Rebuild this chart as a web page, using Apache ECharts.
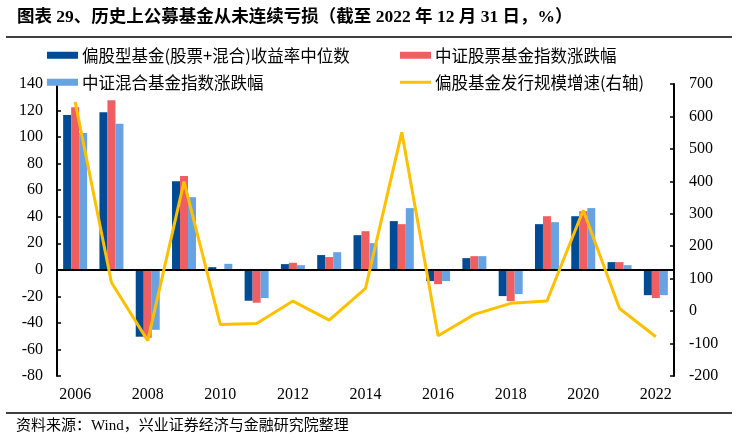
<!DOCTYPE html>
<html>
<head>
<meta charset="utf-8">
<script src="https://cdn.jsdelivr.net/npm/echarts@6/dist/echarts.min.js"></script>
<style>
    html, body { margin: 0; padding: 0; background: #fff; }
    #chart { width: 739px; height: 440px; }
</style>
</head>
<body>
<div id="chart"></div>
<script>
// 年份
var years = ['2006', '2007', '2008', '2009', '2010', '2011', '2012', '2013', '2014',
    '2015', '2016', '2017', '2018', '2019', '2020', '2021', '2022'];

// 偏股型基金(股票+混合)收益率中位数
var medianReturn = [116.7, 118.7, -50.4, 66.8, 2.0, -23.3, 4.3, 11.1, 26.1,
    36.7, -8.5, 8.8, -19.8, 34.4, 40.4, 5.8, -19.1];
// 中证股票基金指数涨跌幅
var stockIndex = [122.5, 127.8, -51.2, 70.6, 0, -24.8, 5.3, 9.6, 29.1,
    34.4, -10.8, 10.3, -23.6, 40.4, 44.2, 5.8, -21.3];
// 中证混合基金指数涨跌幅
var mixedIndex = [103, 110, -45.2, 54.7, 4.5, -21.3, 3.5, 13.3, 20.1,
    46.5, -8.5, 10.3, -18.3, 35.9, 46.5, 3.5, -19.1];
// 偏股基金发行规模增速(右轴)
var issueGrowth = [645, 88, -91, 399, -41, -38, 31, -28, 70,
    551, -76, -10, 24, 31, 311, 8, -79];

var names = ['偏股型基金(股票+混合)收益率中位数', '中证股票基金指数涨跌幅',
    '中证混合基金指数涨跌幅', '偏股基金发行规模增速(右轴)'];

var serif = '"Liberation Serif", "Times New Roman", serif';
var cjk = '"Noto Sans CJK SC", sans-serif';

function legendItem(name, left, top, h) {
    return {
        data: [{ name: name, icon: 'rect' }],
        left: left,
        top: top,
        itemWidth: 31,
        itemHeight: h,
        itemGap: 4,
        selectedMode: false,
        textStyle: { fontFamily: cjk, fontSize: 16.5, color: '#000', padding: [0, 0, 0, -1] }
    };
}

function axisY(min, max, interval, pos) {
    return {
        type: 'value',
        position: pos,
        min: min,
        max: max,
        interval: interval,
        splitLine: { show: false },
        axisLine: { show: true, lineStyle: { color: '#000', width: 2 } },
        axisTick: { show: true, inside: true, length: 4, lineStyle: { color: '#000', width: 1.5 } },
        axisLabel: { fontFamily: serif, fontSize: 16, color: '#000', margin: pos == 'left' ? 14 : 15 }
    };
}

var chart = echarts.init(document.getElementById('chart'));

var option = {
    animation: false,
    grid: { left: 57, right: 65, top: 84, bottom: 64 },
    legend: [
        legendItem(names[0], 42, 42, 7),
        legendItem(names[2], 42, 69, 7),
        legendItem(names[1], 395, 42, 7),
        legendItem(names[3], 395, 69, 3)
    ],
    xAxis: {
        type: 'category',
        data: years,
        axisLine: { show: false },
        axisTick: { show: false },
        axisLabel: { interval: 1, fontFamily: serif, fontSize: 16, color: '#000', margin: 11 }
    },
    yAxis: [
        axisY(-80, 140, 20, 'left'),
        axisY(-200, 700, 100, 'right')
    ],
    series: [
        {
            name: names[0],
            type: 'bar',
            barWidth: 8,
            barGap: '0%',
            itemStyle: { color: '#004B93' },
            data: medianReturn,
            markLine: {
                silent: true,
                symbol: 'none',
                label: { show: false },
                lineStyle: { color: '#000', width: 2, type: 'solid' },
                data: [{ yAxis: 0 }]
            }
        },
        {
            name: names[1],
            type: 'bar',
            barWidth: 8,
            barGap: '0%',
            itemStyle: { color: '#EF5F62' },
            data: stockIndex
        },
        {
            name: names[2],
            type: 'bar',
            barWidth: 8,
            barGap: '0%',
            itemStyle: { color: '#67A3E3' },
            data: mixedIndex
        },
        {
            name: names[3],
            type: 'line',
            yAxisIndex: 1,
            symbol: 'none',
            itemStyle: { color: '#FFC000' },
            lineStyle: { color: '#FFC000', width: 3 },
            data: issueGrowth,
            z: 5
        }
    ],
    graphic: [
        {
            type: 'text',
            left: 17,
            top: 9,
            style: {
                text: '图表 29、历史上公募基金从未连续亏损（截至 2022 年 12 月 31 日，%）',
                font: 'bold 17.5px "Liberation Serif", "Noto Sans CJK SC", serif',
                fill: '#000'
            }
        },
        {
            type: 'line',
            shape: { x1: 6, y1: 37, x2: 732, y2: 37 },
            style: { stroke: '#000', lineWidth: 1.5 }
        },
        {
            type: 'line',
            shape: { x1: 6, y1: 413, x2: 732, y2: 413 },
            style: { stroke: '#000', lineWidth: 1.5 }
        },
        {
            type: 'text',
            left: 16,
            top: 419,
            style: {
                text: '资料来源：Wind，兴业证券经济与金融研究院整理',
                font: '15px "Liberation Serif", "Noto Sans CJK SC", serif',
                fill: '#000'
            }
        }
    ]
};

chart.setOption(option);
</script>
</body>
</html>
